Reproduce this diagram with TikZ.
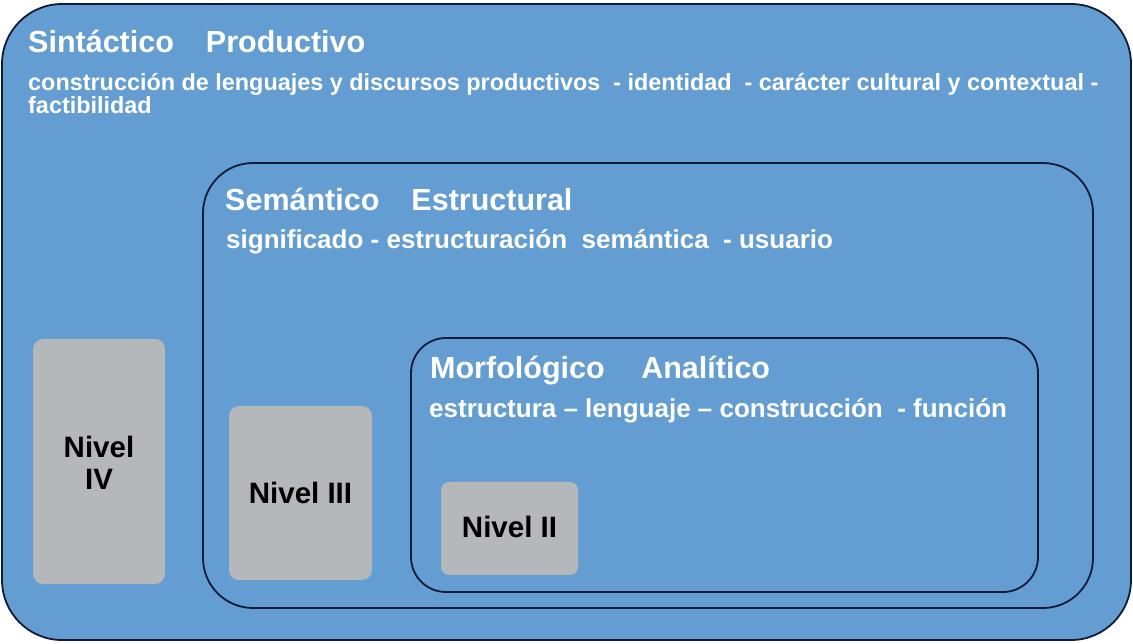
\documentclass[tikz,border=0pt]{standalone}
\usepackage{fontspec}
\setmainfont{Liberation Sans}
\definecolor{boxblue}{RGB}{99,157,209}
\definecolor{navy}{RGB}{14,28,58}
\definecolor{levelgray}{RGB}{181,184,187}
\begin{document}
\begin{tikzpicture}[x=1pt,y=1pt,
  frame/.style={fill=boxblue,draw=navy,line width=1.8pt},
  titletext/.style={anchor=base west,inner sep=0pt,text=white,font=\fontsize{30.5}{34}\selectfont\bfseries},
  bodytext/.style={anchor=base west,inner sep=0pt,text=white,font=\fontsize{23.4}{25}\selectfont\bfseries,align=left},
  innertext/.style={anchor=base west,inner sep=0pt,text=white,font=\fontsize{26}{28}\selectfont\bfseries,align=left},
  leveltext/.style={inner sep=0pt,text=black,font=\fontsize{29.5}{32}\selectfont\bfseries,align=center}]
\useasboundingbox (0,0) rectangle (1133,643);
\draw[frame,rounded corners=60pt] (2,3) rectangle (1131,639);
\node[titletext] (t4) at (28,590) {Sintáctico\hspace{1.05em}Productivo};
\node[bodytext] (b4) at (28,552) {construcción de lenguajes y discursos productivos\ \ - identidad\ \ - carácter cultural y contextual -};
\node[bodytext] (b4b) at (28,529) {factibilidad};
\draw[frame,rounded corners=50pt] (203,35) rectangle (1093,480);
\node[titletext] (t3) at (225,432) {Semántico\hspace{1.05em}Estructural};
\node[innertext] (b3) at (226,394) {significado - estructuración\ \ semántica\ \ - usuario};
\draw[frame,rounded corners=35pt] (411,51) rectangle (1038,305);
\node[titletext] (t2) at (430,264) {Morfológico\hspace{1.2em}Analítico};
\node[innertext] (b2) at (429,225) {estructura – lenguaje – construcción\ \ - función};
\fill[levelgray,rounded corners=10pt] (33,59) rectangle (165,304);
\node[leveltext] (n4) at (99,180) {Nivel\\IV};
\fill[levelgray,rounded corners=10pt] (229,63) rectangle (372,237);
\node[leveltext] (n3) at (300.5,150) {Nivel III};
\fill[levelgray,rounded corners=8pt] (441,68) rectangle (578,161);
\node[leveltext] (n2) at (509.5,116) {Nivel II};
\end{tikzpicture}
\end{document}
